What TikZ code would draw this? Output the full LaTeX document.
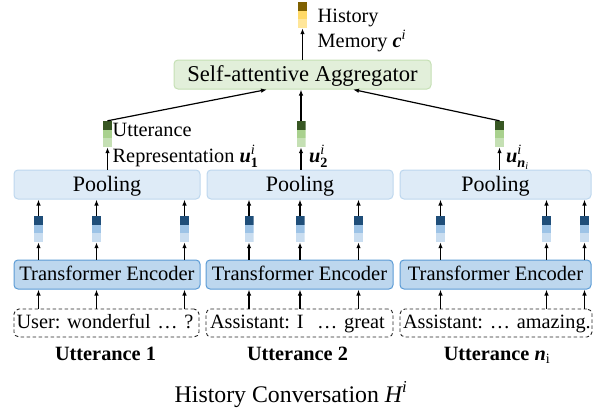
\documentclass[tikz,border=0pt]{standalone}
\usepackage{fontspec}
\setmainfont{Liberation Serif}
\usepackage{amsmath}
\usetikzlibrary{arrows.meta,calc}
\definecolor{aggfill}{HTML}{E2EFDA}
\definecolor{aggdraw}{HTML}{C5E0B4}
\definecolor{poolfill}{HTML}{DEEBF7}
\definecolor{pooldraw}{HTML}{BDD7EE}
\definecolor{encfill}{HTML}{BDD7EE}
\definecolor{encdraw}{HTML}{5B9BD5}
\definecolor{bA}{HTML}{1F4E79}
\definecolor{bB}{HTML}{9DC3E6}
\definecolor{bC}{HTML}{C9DDF0}
\definecolor{gA}{HTML}{385723}
\definecolor{gB}{HTML}{A9D18E}
\definecolor{gC}{HTML}{C5E0B4}
\definecolor{yA}{HTML}{7F6000}
\definecolor{yB}{HTML}{FFD966}
\definecolor{yC}{HTML}{FFE699}
\newcommand{\fsz}[1]{\fontsize{#1}{#1}\selectfont}
\frenchspacing
\begin{document}
\begin{tikzpicture}[x=1pt,y=-1pt,
  vec/.style n args={3}{rectangle, inner sep=0pt, minimum width=9pt, minimum height=26pt,
    path picture={
      \fill[#1] (path picture bounding box.north west) rectangle ($(path picture bounding box.north east)!0.333!(path picture bounding box.south east)$);
      \fill[#2] ($(path picture bounding box.north west)!0.333!(path picture bounding box.south west)$) rectangle ($(path picture bounding box.north east)!0.667!(path picture bounding box.south east)$);
      \fill[#3] ($(path picture bounding box.north west)!0.667!(path picture bounding box.south west)$) rectangle (path picture bounding box.south east);
    }},
  arr/.style={-{Latex[length=6pt,width=4.5pt]}, line width=1.2pt, black},
  lbl/.style={font=\fsz{20.3}, inner sep=0pt},
  aggbox/.style={rectangle, rounded corners=4pt, draw=aggdraw, fill=aggfill, line width=1pt,
    minimum height=29pt, minimum width=257pt, inner sep=0pt, font=\fsz{22.6},
    text height=16pt, text depth=1.6pt},
  poolbox/.style={rectangle, rounded corners=4pt, draw=pooldraw, fill=poolfill, line width=1pt,
    minimum height=29pt, inner sep=0pt, font=\fsz{22},
    text height=15.5pt, text depth=2.5pt},
  encbox/.style={rectangle, rounded corners=4pt, draw=encdraw, fill=encfill, line width=1pt,
    minimum height=29pt, inner sep=0pt, font=\fsz{20.5},
    text height=14pt, text depth=3pt},
  dbox/.style={rectangle, rounded corners=5pt, draw=black!85, dash pattern=on 3.5pt off 2.5pt, line width=0.9pt,
    minimum height=28pt, inner ysep=0pt, align=left, font=\fsz{20.3},
    text height=14pt, text depth=4pt},
  ulbl/.style={font=\bfseries\fsz{20.3}, inner sep=0pt, anchor=base}
]
\useasboundingbox (0,0) rectangle (606,415);

% aggregator and history memory
\node[aggbox] (agg) at (302.5,74.5) {Self-attentive Aggregator};
\node[vec={yA}{yB}{yC}] (hm) at (302.5,15) {};
\node[lbl, anchor=base west] (hmt1) at (317.5,22) {History};
\node[lbl, anchor=base west] (hmt2) at (317.5,47) {Memory $\textbf{\textit{c}}^{\textit{i}}$};
\draw[arr] (hm.south |- agg.north) -- (hm.south);

% utterance representations
\node[vec={gA}{gB}{gC}] (g1) at (107.5,134) {};
\node[vec={gA}{gB}{gC}] (g2) at (301,134) {};
\node[vec={gA}{gB}{gC}] (g3) at (499.5,134) {};
\node[lbl, anchor=base west] (ut1) at (112.5,136) {Utterance};
\node[lbl, anchor=base west] (ut2) at (112.5,162) {Representation $\textbf{\textit{u}}^{\textit{i}}_{\textbf{1}}$};
\node[lbl, anchor=base west] (ut3) at (309,162) {$\textbf{\textit{u}}^{\textit{i}}_{\textbf{2}}$};
\node[lbl, anchor=base west] (ut4) at (506,162) {$\textbf{\textit{u}}^{\textit{i}}_{\textbf{\textit{n}}_{\textit{i}}}$};
\coordinate (a1) at ([xshift=-35.5pt]agg.south);
\coordinate (a3) at ([xshift=50.5pt]agg.south);
\draw[arr] (g1.north) -- (a1);
\draw[arr] (g2.north) -- (g2.north |- agg.south);
\draw[arr] (g3.north) -- (a3);

% pooling
\node[poolbox, minimum width=186pt] (p1) at (107,184.5) {Pooling};
\node[poolbox, minimum width=186pt] (p2) at (300,184.5) {Pooling};
\node[poolbox, minimum width=191pt] (p3) at (495.5,184.5) {Pooling};
\draw[arr] (g1.south |- p1.north) -- (g1.south);
\draw[arr] (g2.south |- p2.north) -- (g2.south);
\draw[arr] (g3.south |- p3.north) -- (g3.south);

% encoders
\node[encbox, minimum width=186pt] (e1) at (107,274.5) {Transformer Encoder};
\node[encbox, minimum width=187pt] (e2) at (299.5,274.5) {Transformer Encoder};
\node[encbox, minimum width=191pt] (e3) at (495.5,274.5) {Transformer Encoder};

% utterance texts
\node[dbox, text width=180pt, inner xsep=2.5pt] (d1) at (106.5,323) {\mbox{User: wonderful … ?}};
\node[dbox, text width=179pt, inner xsep=4pt] (d2) at (299.5,323) {\mbox{Assistant: I~~… great}};
\node[dbox, text width=186pt, inner xsep=3pt] (d3) at (496,323) {\mbox{Assistant: … amazing.}};

% token vectors
\foreach \nm/\xx/\k in {b11/38.5/1, b12/96.5/1, b13/184.5/1, b21/249/2, b22/300/2, b23/358.5/2, b31/440.5/3, b32/546.5/3, b33/584.5/3}{
  \node[vec={bA}{bB}{bC}] (\nm) at (\xx,229) {};
  \draw[arr] (\nm.north) -- (\nm.north |- p\k.south);
  \draw[arr] (\nm.south |- e\k.north) -- (\nm.south);
  \draw[arr] (\nm.south |- d\k.north) -- (\nm.south |- e\k.south);
}

% labels
\node[ulbl] (l1) at (105.5,360) {Utterance 1};
\node[ulbl] (l2) at (297.5,360) {Utterance 2};
\node[ulbl] (l3) at (497,360) {Utterance \textit{n}$_{\text{\normalfont i}}$};
\node[font=\fsz{23.8}, inner sep=0pt, anchor=base] (cap) at (291,402) {History Conversation $\textit{H}^{\textit{i}}$};
\end{tikzpicture}
\end{document}
